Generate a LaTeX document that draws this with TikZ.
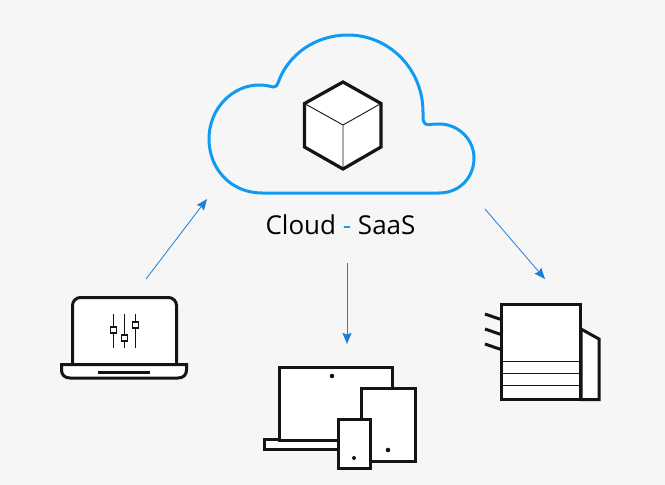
\documentclass[tikz,border=0pt]{standalone}
\usepackage{fontspec}
\setmainfont{Open Sans}
\usetikzlibrary{arrows.meta}
\definecolor{cloudblue}{HTML}{0F9BF2}
\definecolor{arrowblue}{HTML}{1A7FD6}
\definecolor{iconblack}{HTML}{141414}
\definecolor{backgrey}{HTML}{F6F6F6}
\tikzset{
    icon/.style={draw=iconblack,line width=3pt,fill=white,line join=miter},
    thinline/.style={draw=iconblack,line width=.9pt},
    flow/.style={draw=arrowblue,line width=.8pt,-{Stealth[length=11pt,width=9pt,inset=1.5pt]}},
    dot/.style={circle,fill=iconblack,inner sep=0pt,minimum size=4.6pt}
}
\begin{document}
\begin{tikzpicture}[x=1pt,y=-1pt]
    \fill[backgrey] (0,0) rectangle (665,485);
    \useasboundingbox (0,0) rectangle (665,485);
    % cloud ====================================================
    \draw[cloudblue,line width=3pt,fill=backgrey]
        (262,193) .. controls (231,193) and (209,169) .. (209,139)
        .. controls (209,108) and (233,85) .. (259,85)
        .. controls (265,85) and (269,86) .. (273,87)
        .. controls (276,87.5) and (277,85) .. (278,83)
        .. controls (288,54) and (316,35) .. (348,35)
        .. controls (389,35) and (423,69) .. (423,112)
        .. controls (423,115) and (423,117) .. (423,119)
        .. controls (424,124) and (426,125) .. (430,124.5)
        .. controls (433,124) and (436,124) .. (439,124)
        .. controls (459,124) and (474,140) .. (474,158)
        .. controls (474,178) and (459,193) .. (439,193)
        -- cycle;
    % cube =====================================================
    \coordinate (C)  at (343,125);
    \coordinate (C1) at (343,82);
    \coordinate (C2) at (381,103.5);
    \coordinate (C3) at (381,147);
    \coordinate (C4) at (343,169);
    \coordinate (C5) at (304.5,147);
    \coordinate (C6) at (304.5,103.5);
    \draw[icon,line width=3.2pt] (C1) -- (C2) -- (C3) -- (C4) -- (C5) -- (C6) -- cycle;
    \draw[thinline] (C6) -- (C) -- (C2) (C) -- (C4);
    \node (LBL) at (340.5,225) {\fontsize{26pt}{31pt}\selectfont Cloud \textcolor{cloudblue}{-} SaaS};
    % laptop ===================================================
    \draw[icon,rounded corners=8pt] (72.5,364) -- (72.5,297.5) -- (176.5,297.5) -- (176.5,364);
    \draw[icon] (61.5,364.5) -- (61.5,370) .. controls (61.5,375) and (65,378) .. (70,378) -- (178,378)
        .. controls (183,378) and (186.5,375) .. (186.5,370) -- (186.5,364.5) -- cycle;
    \draw[iconblack,line width=3pt] (98,372) -- (150,372);
    \foreach \x/\y in {113.3/330,124.3/338,135.3/325} {
        \draw[thinline] (\x,314) -- (\x,348);
        \draw[thinline,fill=white,line width=1.1pt] (\x-3,\y-3) rectangle (\x+3,\y+3);
    }
    % devices ==================================================
    \draw[icon,line width=2.6pt] (264.5,439.5) rectangle (345,449.5);
    \draw[icon] (279.5,367.5) rectangle (392,440.5);
    \draw[icon] (361.5,388.5) rectangle (415.5,461.5);
    \draw[icon] (338.5,419.5) rectangle (370.5,468.5);
    \node[dot] (D1) at (332,376) {};
    \node[dot] (D2) at (388,450) {};
    \node[dot,minimum size=4pt] (D3) at (354,458) {};
    % printer ==================================================
    \draw[icon] (581,329) -- (599,339) -- (599,399.5) -- (581,399.5) -- cycle;
    \draw[icon] (501.5,304.5) rectangle (580.5,399.5);
    \foreach \y in {361,373,385.5} \draw[thinline] (502,\y) -- (580,\y);
    \foreach \y in {314,329,344} \draw[iconblack,line width=3pt] (485,\y) -- (501,\y+5.5);
    % arrows ===================================================
    \coordinate (A1) at (146,279);  \coordinate (A2) at (207,199);
    \coordinate (B1) at (347,263);  \coordinate (B2) at (347,344);
    \coordinate (E1) at (485,209);  \coordinate (E2) at (545,279);
    \draw[flow] (A1) -- (A2);
    \draw[flow] (B1) -- (B2);
    \draw[flow] (E1) -- (E2);
\end{tikzpicture}
\end{document}
